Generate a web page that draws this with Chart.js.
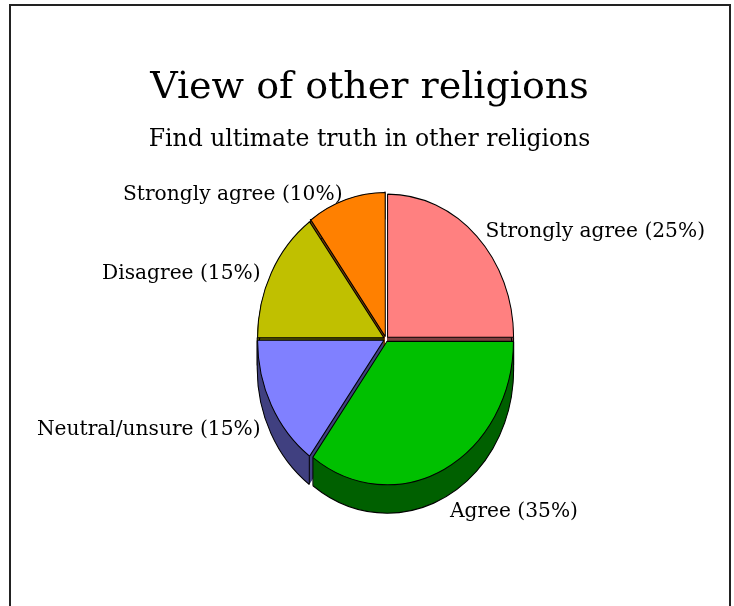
<!DOCTYPE html>
<html>
<head>
<meta charset="utf-8">
<style>
    html, body { margin: 0; padding: 0; background: #fff; overflow: hidden; }
    #wrap { position: relative; width: 734px; height: 606px; overflow: hidden; }
    #frame { position: absolute; left: 9px; top: 4px; width: 718px; height: 620px; border: 2px solid #222; }
    canvas { position: absolute; left: 0; top: 0; }
</style>
<script src="https://cdn.jsdelivr.net/npm/chart.js@4"></script>
</head>
<body>
<div id="wrap">
    <div id="frame"></div>
    <canvas id="chart" width="734" height="606"></canvas>
</div>
<script>
const titleText = 'View of other religions';
const subtitleText = 'Find ultimate truth in other religions';

const labels = ['Strongly agree', 'Agree', 'Neutral/unsure', 'Disagree', 'Strongly agree'];
const values = [25, 35, 15, 15, 10];
const topColors = ['#ff8080', '#00c000', '#8080ff', '#c0c000', '#ff8000'];
const wallColors = ['#804040', '#006000', '#404080', '#606000', '#804000'];
// back slices first so the front ones cover them
const drawOrder = [4, 0, 3, 2, 1];
const labelNudge = [5, 32, 19, 7, 6];

const serif = '"DejaVu Serif", serif';
const pieX = 386;
const pieY = 339;
const squash = 1.135;
const depth = 28;
const labelGap = 12.5;

const pie3d = {
    id: 'pie3d',
    beforeDatasetDraw(chart, args) {
        const ctx = chart.ctx;
        const arcs = args.meta.data;

        drawOrder.forEach((i) => {
            const arc = arcs[i];
            const circ = arc.endAngle - arc.startAngle;
            const base = arc.options.offset / 4;
            // same shift and radius ArcElement.draw uses for the top face
            const fix = base * (1 - Math.sin(Math.min(Math.PI, circ)));
            const shift = base + fix;
            const mid = (arc.startAngle + arc.endAngle) / 2;
            const r = arc.outerRadius + fix;
            const cx = arc.x + Math.cos(mid) * shift;
            const cy = arc.y + Math.sin(mid) * shift;
            const drop = depth / squash;
            const x0 = cx + Math.cos(arc.startAngle) * r;
            const y0 = cy + Math.sin(arc.startAngle) * r;
            const x1 = cx + Math.cos(arc.endAngle) * r;
            const y1 = cy + Math.sin(arc.endAngle) * r;

            ctx.save();
            ctx.translate(pieX, pieY);
            ctx.scale(1, squash);
            ctx.translate(-arc.x, -arc.y);

            // side wall, swept down from the top face
            ctx.fillStyle = wallColors[i];
            for (let d = 1; d <= depth; d++) {
                const y = cy + d / squash;
                ctx.beginPath();
                ctx.moveTo(cx, y);
                ctx.arc(cx, y, r, arc.startAngle, arc.endAngle);
                ctx.closePath();
                ctx.fill();
            }
            ctx.strokeStyle = '#000';
            ctx.lineWidth = 1;
            ctx.beginPath();
            ctx.arc(cx, cy + drop, r, arc.startAngle, arc.endAngle);
            ctx.moveTo(x0, y0);
            ctx.lineTo(x0, y0 + drop);
            ctx.moveTo(x1, y1);
            ctx.lineTo(x1, y1 + drop);
            ctx.stroke();

            // top face
            arc.draw(ctx);
            ctx.restore();
        });

        // slice labels, placed off the rim at each slice's mid angle
        ctx.save();
        ctx.font = '20.2px ' + serif;
        ctx.fillStyle = '#000';
        ctx.textBaseline = 'middle';
        arcs.forEach((arc, i) => {
            const mid = (arc.startAngle + arc.endAngle) / 2;
            const r = arc.outerRadius + arc.options.offset / 4;
            const x = pieX + Math.cos(mid) * (r + labelGap);
            const y = pieY + Math.sin(mid) * (r * squash + labelGap) + labelNudge[i];
            ctx.textAlign = Math.cos(mid) >= 0 ? 'left' : 'right';
            ctx.fillText(labels[i] + ' (' + values[i] + '%)', x, y);
        });
        ctx.restore();

        return false;
    },
};

new Chart(document.getElementById('chart'), {
    type: 'pie',
    data: {
        labels: labels,
        datasets: [
            {
                data: values,
                backgroundColor: topColors,
                borderColor: '#000',
                borderWidth: 1,
                offset: 9,
            },
        ],
    },
    options: {
        responsive: false,
        animation: false,
        events: [],
        radius: 126,
        layout: { padding: { left: 5 } },
        plugins: {
            legend: { display: false },
            tooltip: { enabled: false },
            title: {
                display: true,
                text: titleText,
                color: '#000',
                font: { family: serif, size: 38, weight: 'normal' },
                padding: { top: 65, bottom: 0 },
            },
            subtitle: {
                display: true,
                text: subtitleText,
                color: '#000',
                font: { family: serif, size: 23.5, weight: 'normal' },
                padding: { top: 15, bottom: 0 },
            },
        },
    },
    plugins: [pie3d],
});
</script>
</body>
</html>
